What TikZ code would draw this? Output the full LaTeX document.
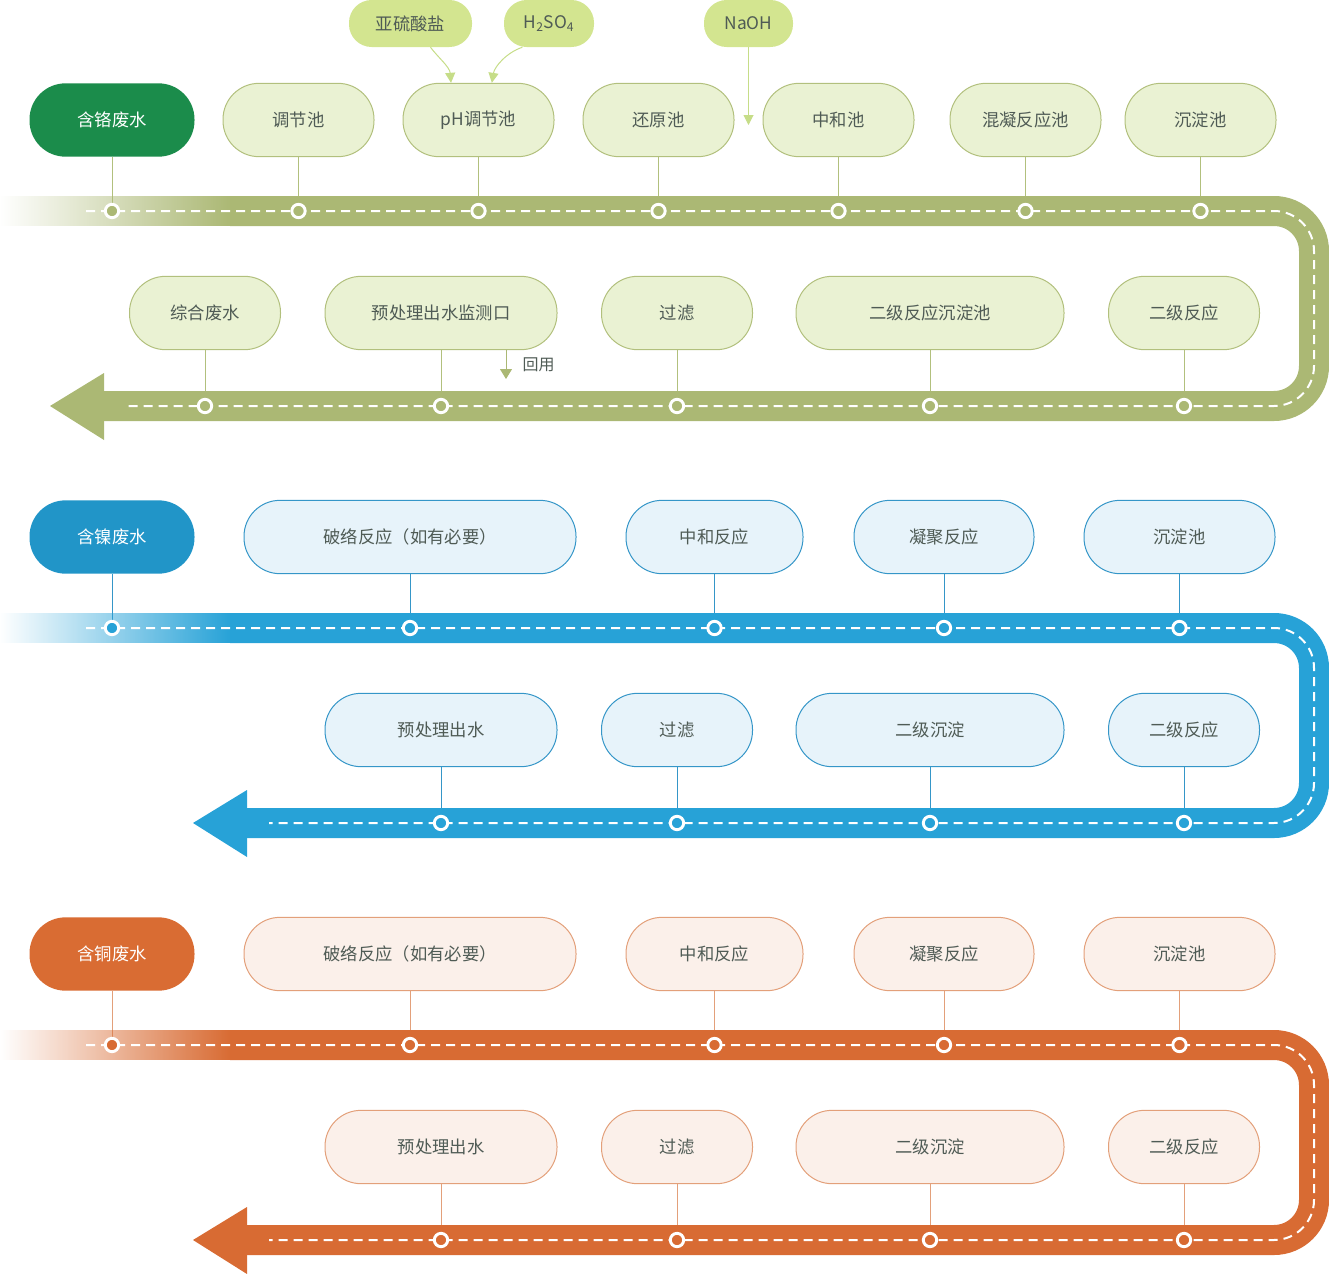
\documentclass[tikz,border=0pt]{standalone}
\usepackage{fontspec}
\setmainfont{Noto Sans CJK SC}
\usetikzlibrary{arrows.meta,fadings}

\definecolor{ink}{HTML}{4F5B55}
\definecolor{crband}{HTML}{ABB874}
\definecolor{crfill}{HTML}{EAF2D3}
\definecolor{crline}{HTML}{B2C07D}
\definecolor{crdark}{HTML}{1B8C4B}
\definecolor{crdose}{HTML}{D3E590}
\definecolor{crarrow}{HTML}{C6DD88}
\definecolor{niband}{HTML}{27A2D7}
\definecolor{nifill}{HTML}{E7F3FA}
\definecolor{niline}{HTML}{3596C8}
\definecolor{nidark}{HTML}{2195C8}
\definecolor{cuband}{HTML}{D86B33}
\definecolor{cufill}{HTML}{FBF0EA}
\definecolor{culine}{HTML}{E3A07A}
\definecolor{cudark}{HTML}{D96C33}

\tikzfading[name=fadein, left color=transparent!100, right color=transparent!0]

\tikzset{
  box/.style={draw=boxline, fill=boxfill, line width=0.75pt, rounded corners=27pt,
    minimum height=55pt, inner sep=0pt, text=ink, font=\fontsize{13pt}{15pt}\selectfont},
  src/.style={box, draw=none, fill=dark, text=white},
  dose/.style={fill=crdose, rounded corners=17pt, minimum height=35.25pt, inner sep=0pt,
    text=ink, font=\fontsize{13pt}{15pt}\selectfont},
  feed/.style={draw=crarrow, line width=0.75pt, -{Triangle[width=7.5pt,length=7.5pt]}},
  link/.style={draw=boxline, line width=0.75pt},
  stop/.style={circle, draw=white, line width=2.2pt, fill=band, minimum size=10pt, inner sep=0pt},
  road/.style={white, line width=1.5pt, dash pattern=on 6.75pt off 4.5pt, rounded corners=30pt}
}

% band with arrow, #1 = x of the arrow tip
\newcommand{\flowband}[1]{%
  \fill[band, path fading=fadein] (0,196) rectangle (230,226);
  \draw[band, line width=22.5pt, rounded corners=30pt] (230,211) -- (1314,211) -- (1314,406) -- (#1+53,406);
  \fill[band] (#1,406) -- (#1+54,373) -- (#1+54,440) -- cycle;
  \draw[road] (86,211) -- (1314,211) -- (1314,406) -- (#1+76,406);
}

\begin{document}
\begin{tikzpicture}[x=0.75pt, y=-0.75pt]
\useasboundingbox (0,0) rectangle (1329,1274);

% chromium
\begin{scope}
\colorlet{band}{crband}
\colorlet{boxfill}{crfill}
\colorlet{boxline}{crline}
\colorlet{dark}{crdark}

\node[src, minimum width=123.75pt] (Cr0) at (112,120) {含铬废水};
\node[box, minimum width=113.25pt] (Cr1) at (298.5,120) {调节池};
\node[box, minimum width=113.25pt] (Cr2) at (478.5,120) {pH调节池};
\node[box, minimum width=113.25pt] (Cr3) at (658.5,120) {还原池};
\node[box, minimum width=113.25pt] (Cr4) at (838.5,120) {中和池};
\node[box, minimum width=113.25pt] (Cr5) at (1025.5,120) {混凝反应池};
\node[box, minimum width=113.25pt] (Cr6) at (1200.5,120) {沉淀池};
\node[box, minimum width=113.25pt] (Cr7) at (1184,313) {二级反应};
\node[box, minimum width=201pt] (Cr8) at (930,313) {二级反应沉淀池};
\node[box, minimum width=113.25pt] (Cr9) at (677,313) {过滤};
\node[box, minimum width=174pt] (Cr10) at (441,313) {预处理出水监测口};
\node[box, minimum width=113.25pt] (Cr11) at (205,313) {综合废水};

\node[dose, minimum width=92.25pt] (salt) at (410.5,23.5) {亚硫酸盐};
\node[dose, minimum width=67.5pt] (acid) at (549,23.5) {H\textsubscript{2}SO\textsubscript{4}};
\node[dose, minimum width=66.75pt] (soda) at (748.5,23.5) {NaOH};
\coordinate (naoh) at (748.5,125);

\draw[feed] ([xshift=15pt]salt.south) .. controls +(6pt,-8pt) and +(-1pt,12pt) .. ([xshift=-20.6pt]Cr2.north);
\draw[feed] ([xshift=-20pt]acid.south) .. controls +(-12pt,-4pt) and +(2pt,12pt) .. ([xshift=10pt]Cr2.north);
\draw[feed] (soda) -- (naoh);

\coordinate (reuse) at (506,379);
\draw[draw=crband, line width=0.75pt, -{Triangle[width=9pt,length=7.5pt]}] (reuse |- Cr10.south) -- (reuse);
\node[text=ink, font=\fontsize{12pt}{14pt}\selectfont, anchor=west] (reusetxt) at (518,365) {回用};

\foreach \i in {0,...,6} \coordinate (Crs\i) at (Cr\i |- 0,211);
\foreach \i in {7,...,11} \coordinate (Crs\i) at (Cr\i |- 0,406);
\foreach \i in {0,...,11} \draw[link] (Cr\i) -- (Crs\i);

\flowband{50}
\foreach \i in {0,...,11} \node[stop] at (Crs\i) {};
\end{scope}

% nickel
\begin{scope}[shift={(0,417)}]
\colorlet{band}{niband}
\colorlet{boxfill}{nifill}
\colorlet{boxline}{niline}
\colorlet{dark}{nidark}

\node[src, minimum width=123.75pt] (Ni0) at (112,120) {含镍废水};
\node[box, minimum width=249pt] (Ni1) at (410,120) {破络反应（如有必要）};
\node[box, minimum width=132.75pt] (Ni2) at (714.5,120) {中和反应};
\node[box, minimum width=135pt] (Ni3) at (944,120) {凝聚反应};
\node[box, minimum width=143.25pt] (Ni4) at (1179.5,120) {沉淀池};
\node[box, minimum width=113.25pt] (Ni5) at (1184,313) {二级反应};
\node[box, minimum width=201pt] (Ni6) at (930,313) {二级沉淀};
\node[box, minimum width=113.25pt] (Ni7) at (677,313) {过滤};
\node[box, minimum width=174pt] (Ni8) at (441,313) {预处理出水};

\foreach \i in {0,...,4} \coordinate (Nis\i) at (Ni\i |- 0,211);
\foreach \i in {5,...,8} \coordinate (Nis\i) at (Ni\i |- 0,406);
\foreach \i in {0,...,8} \draw[link] (Ni\i) -- (Nis\i);

\flowband{193}
\foreach \i in {0,...,8} \node[stop] at (Nis\i) {};
\end{scope}

% copper
\begin{scope}[shift={(0,834)}]
\colorlet{band}{cuband}
\colorlet{boxfill}{cufill}
\colorlet{boxline}{culine}
\colorlet{dark}{cudark}

\node[src, minimum width=123.75pt] (Cu0) at (112,120) {含铜废水};
\node[box, minimum width=249pt] (Cu1) at (410,120) {破络反应（如有必要）};
\node[box, minimum width=132.75pt] (Cu2) at (714.5,120) {中和反应};
\node[box, minimum width=135pt] (Cu3) at (944,120) {凝聚反应};
\node[box, minimum width=143.25pt] (Cu4) at (1179.5,120) {沉淀池};
\node[box, minimum width=113.25pt] (Cu5) at (1184,313) {二级反应};
\node[box, minimum width=201pt] (Cu6) at (930,313) {二级沉淀};
\node[box, minimum width=113.25pt] (Cu7) at (677,313) {过滤};
\node[box, minimum width=174pt] (Cu8) at (441,313) {预处理出水};

\foreach \i in {0,...,4} \coordinate (Cus\i) at (Cu\i |- 0,211);
\foreach \i in {5,...,8} \coordinate (Cus\i) at (Cu\i |- 0,406);
\foreach \i in {0,...,8} \draw[link] (Cu\i) -- (Cus\i);

\flowband{193}
\foreach \i in {0,...,8} \node[stop] at (Cus\i) {};
\end{scope}

\end{tikzpicture}
\end{document}
